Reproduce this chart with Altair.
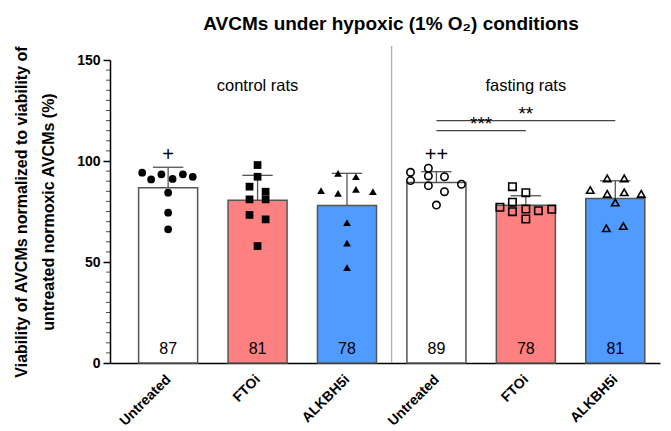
import json
import altair as alt
import pandas as pd

# ---------------- data ----------------
categories = ["Untreated", "FTOi", "ALKBH5i", "Untreated", "FTOi", "ALKBH5i"]
positions = [1, 2, 3, 4, 5, 6]
cohort = ["control", "control", "control", "fasting", "fasting", "fasting"]
means = [86.7, 80.6, 78.0, 89.3, 78.1, 81.4]
mean_labels = ["87", "81", "78", "89", "78", "81"]
sds = [10.2, 12.3, 15.9, 5.4, 4.7, 8.8]
bar_colors = ["#ffffff", "#ff8080", "#4f9bff", "#ffffff", "#ff8080", "#4f9bff"]
shapes = ["circle", "square", "triangle-up", "circle", "square", "triangle-up"]

pts_g1 = [94.2, 90.9, 93.4, 91.1, 93.4, 92.2, 84.3, 74.4, 66.2]
jit_g1 = [-0.29, -0.19, -0.075, 0.05, 0.165, 0.275, 0, 0, 0]
pts_g2 = [98.0, 92.2, 87.3, 81.0, 84.8, 81.0, 73.3, 71.1, 57.9]
jit_g2 = [0, 0, -0.09, -0.09, 0.09, 0.09, -0.09, 0.09, 0]
pts_g3 = [93.9, 92.2, 85.3, 84.0, 86.0, 84.8, 69.5, 59.3, 47.2]
jit_g3 = [-0.1, 0.1, -0.29, -0.1, 0.1, 0.29, 0, 0, 0]
pts_g4 = [94.4, 90.3, 96.4, 92.6, 87.8, 92.2, 84.8, 88.5, 78.2]
jit_g4 = [-0.29, -0.29, -0.09, -0.09, -0.09, 0.09, 0.09, 0.28, 0]
pts_g5 = [87.3, 84.3, 77.1, 79.6, 74.9, 76.2, 71.3, 75.4, 76.1]
jit_g5 = [-0.15, 0, -0.29, -0.15, -0.15, 0, 0, 0.14, 0.29]
pts_g6 = [91.4, 91.4, 85.6, 83.7, 84.5, 83.7, 79.4, 66.7, 67.8]
jit_g6 = [-0.09, 0.1, -0.28, -0.09, 0.1, 0.29, 0, -0.1, 0.09]

group_titles = ["control rats", "fasting rats"]
group_title_x = [2, 5]
group_title_y = [137, 137]

sig_labels = ["***", "**"]
sig_from = [4, 4]
sig_to = [5, 6]
sig_y = [115, 120]

dagger_labels = ["+", "++"]
dagger_x = [1, 4]
dagger_y = [103, 103]

separator_x = [3.5]
separator_top = [157]

y_major = [0, 50, 100, 150]
y_minor = [v for v in range(0, 151, 5) if v not in y_major]

title_text = "AVCMs under hypoxic (1% O\u2082) conditions"
y_title = ["Viability of AVCMs normalized to viability of", "untreated normoxic AVCMs (%)"]

# ---------------- frames ----------------
BAR_HALF = 0.33
CAP_HALF = 0.17
XMIN, XMAX = 0.35, 6.5

bars = pd.DataFrame({
    "pos": positions, "cat": categories, "mean": means, "label": mean_labels,
    "sd": sds, "fill": bar_colors,
})
bars["x1"] = bars["pos"] - BAR_HALF
bars["x2"] = bars["pos"] + BAR_HALF
bars["top"] = bars["mean"] + bars["sd"]
bars["c1"] = bars["pos"] - CAP_HALF
bars["c2"] = bars["pos"] + CAP_HALF
bars["lab_y"] = 7

rows = []
for i, (vals, jits) in enumerate([(pts_g1, jit_g1), (pts_g2, jit_g2), (pts_g3, jit_g3),
                                  (pts_g4, jit_g4), (pts_g5, jit_g5), (pts_g6, jit_g6)]):
    for v, j in zip(vals, jits):
        rows.append({"x": positions[i] + j, "v": v, "shape": shapes[i], "cohort": cohort[i]})
pts = pd.DataFrame(rows)
pts_ctrl = pts[pts["cohort"] == "control"]
pts_fast = pts[pts["cohort"] == "fasting"]

gt = pd.DataFrame({"x": group_title_x, "y": group_title_y, "t": group_titles})
sig = pd.DataFrame({"x1": sig_from, "x2": sig_to, "y": sig_y, "t": sig_labels})
sig["xm"] = (sig["x1"] + sig["x2"]) / 2
sig["ty"] = sig["y"] + 3.5
dag = pd.DataFrame({"x": dagger_x, "y": dagger_y, "t": dagger_labels})
sep = pd.DataFrame({"x": separator_x, "y2": separator_top, "y": [0]})
minor = pd.DataFrame({"y": y_minor, "x": [XMIN] * len(y_minor)})

FONT = "Liberation Sans"
xs = alt.Scale(domain=[XMIN, XMAX], nice=False, zero=False)
ys = alt.Scale(domain=[0, 150], nice=False, zero=True)

label_expr = json.dumps(categories) + "[datum.value - 1]"

x_axis = alt.Axis(values=positions, labelExpr=label_expr, title=None, ticks=False,
                  grid=False, domainColor="black", domainWidth=1.5,
                  labelAngle=-45, labelAlign="right", labelBaseline="middle",
                  labelFontWeight="bold", labelFontSize=14, labelFont=FONT,
                  labelColor="black", labelPadding=14)
y_axis = alt.Axis(values=y_major, title=y_title, grid=False, domainColor="black",
                  domainWidth=1.5, tickColor="black", tickWidth=1.5, tickSize=7,
                  labelFontWeight="bold", labelFontSize=14, labelFont=FONT,
                  labelColor="black", labelPadding=3,
                  titleFont=FONT, titleFontSize=16, titleFontWeight="bold",
                  titleColor="black", titlePadding=20, titleLineHeight=27)


def X(field):
    return alt.X(field, scale=xs, axis=x_axis)


def Y(field):
    return alt.Y(field, scale=ys, axis=y_axis)


bar_layer = alt.Chart(bars).mark_bar(stroke="#555555", strokeWidth=1.5).encode(
    x=X("x1:Q"), x2="x2:Q", y=Y("mean:Q"), y2=alt.datum(0),
    fill=alt.Fill("fill:N", scale=None),
)

err_line = alt.Chart(bars).mark_rule(color="#555555", strokeWidth=1.3).encode(
    x=X("pos:Q"), y=Y("mean:Q"), y2="top:Q",
)
err_cap = alt.Chart(bars).mark_rule(color="#555555", strokeWidth=1.3).encode(
    x=X("c1:Q"), x2="c2:Q", y=Y("top:Q"),
)

pt_ctrl = alt.Chart(pts_ctrl).mark_point(filled=True, color="black", opacity=1, size=60).encode(
    x=X("x:Q"), y=Y("v:Q"), shape=alt.Shape("shape:N", scale=None),
)
pt_fast = alt.Chart(pts_fast).mark_point(filled=False, color="black", opacity=1,
                                         strokeWidth=1.6, size=55).encode(
    x=X("x:Q"), y=Y("v:Q"), shape=alt.Shape("shape:N", scale=None),
)

val_text = alt.Chart(bars).mark_text(font=FONT, fontSize=16, color="black").encode(
    x=X("pos:Q"), y=Y("lab_y:Q"), text="label:N",
)

group_text = alt.Chart(gt).mark_text(font=FONT, fontSize=16.5, color="black").encode(
    x=X("x:Q"), y=Y("y:Q"), text="t:N",
)

sig_rule = alt.Chart(sig).mark_rule(color="#444444", strokeWidth=1.2).encode(
    x=X("x1:Q"), x2="x2:Q", y=Y("y:Q"),
)
sig_text = alt.Chart(sig).mark_text(font=FONT, fontSize=19, color="black",
                                    baseline="middle").encode(
    x=X("xm:Q"), y=Y("ty:Q"), text="t:N",
)

dag_text = alt.Chart(dag).mark_text(font=FONT, fontSize=20, color="#000000").encode(
    x=X("x:Q"), y=Y("y:Q"), text="t:N",
)

sep_rule = alt.Chart(sep).mark_rule(color="#999999", strokeWidth=1, clip=False).encode(
    x=X("x:Q"), y=Y("y:Q"), y2="y2:Q",
)

minor_ticks = alt.Chart(minor).mark_tick(orient="horizontal", size=4, thickness=1,
                                         color="black", xOffset=-2).encode(
    x=X("x:Q"), y=Y("y:Q"),
)

chart = alt.layer(
    bar_layer, err_line, err_cap, sep_rule, pt_ctrl, pt_fast, val_text, group_text,
    sig_rule, sig_text, dag_text, minor_ticks,
).properties(
    width=550, height=303,
    title=alt.TitleParams(title_text, font=FONT, fontSize=19, fontWeight="bold",
                          color="black", anchor="middle", offset=11, dx=6),
    autosize=alt.AutoSizeParams(type="none"),
    padding={"left": 110, "top": 60, "right": 11, "bottom": 68},
).configure(background="white").configure_view(stroke=None)

chart.save("out.html", embed_options={"renderer": "svg", "actions": False})
